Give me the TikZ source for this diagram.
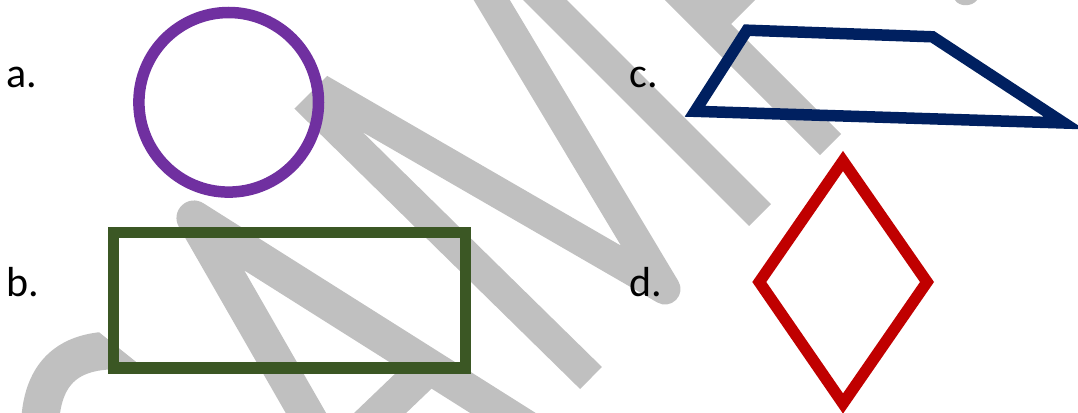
\documentclass[tikz,border=0pt]{standalone}
\usepackage{fontspec}
\setmainfont{Carlito}
\definecolor{wmgray}{HTML}{C0C0C0}
\definecolor{cpurple}{HTML}{7030A0}
\definecolor{cblue}{HTML}{002060}
\definecolor{cgreen}{HTML}{3B5724}
\definecolor{cred}{HTML}{C00000}
\begin{document}
\begin{tikzpicture}[x=1pt,y=-1pt,
  wm/.style={draw=wmgray, line join=round, line cap=butt},
  shp/.style={line width=11.5pt, line join=miter},
  lbl/.style={anchor=base west, inner sep=0pt, font=\fontsize{42}{50}\selectfont}]
\useasboundingbox (0,0) rectangle (1078,412);
\clip (0,0) rectangle (1078,412);
% watermark: S
\begin{scope}
  \clip (0,253) -- (200,413) -- (0,413) -- cycle;
  \draw[wm, line width=38pt] (40,440) .. controls (37,370) and (70,343) .. (140,352);
\end{scope}
% watermark: A
\draw[wm, line width=35pt] (322,441) -- (194,218) -- (560,449);
\draw[wm, line width=36pt] (330,461) -- (425,370);
% watermark: M
\begin{scope}
  \clip (0,403) -- (403,0) -- (1078,0) -- (1078,412) -- (0,412) -- cycle;
  \draw[wm, line width=31pt] (591,378) -- (264.5,57.6) -- (665,289) -- (412,-133) -- (760,215);
\end{scope}
% watermark: P
\draw[wm, line width=30pt] (830.5,144.5) -- (600,-86);
\fill[wmgray] (700,-5) -- (760,-5) -- (731,24) -- (700,24) -- cycle;
% watermark: L
\fill[wmgray] (955,0) .. controls (959,7) and (972,7) .. (977,0) -- cycle;
% shapes
\draw[shp, draw=cpurple] (228.7,102.3) circle[radius=89.8];
\draw[shp, draw=cgreen] (113.5,232.7) rectangle (465.5,368.2);
\draw[shp, draw=cblue] (747,30.2) -- (932.5,36.8) -- (1064,123) -- (695,111.3) -- cycle;
\draw[shp, draw=cred] (843,161) -- (927,282) -- (843,403.5) -- (759.3,282) -- cycle;
% labels
\node[lbl] (la) at (6,87.3) {a.};
\node[lbl] (lb) at (6,296) {b.};
\node[lbl] (lc) at (629.5,87.3) {c.};
\node[lbl] (ld) at (629.5,296) {d.};
\end{tikzpicture}
\end{document}
